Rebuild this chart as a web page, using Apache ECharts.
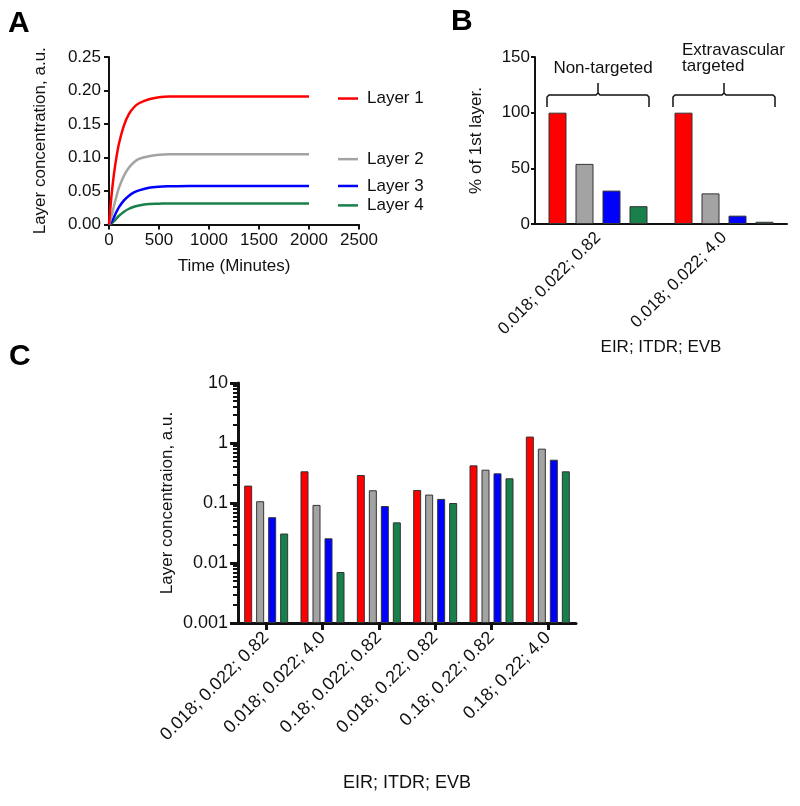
<!DOCTYPE html>
<html><head><meta charset="utf-8">
<script src="https://cdn.jsdelivr.net/npm/echarts@6/dist/echarts.min.js"></script>
<style>html,body{margin:0;padding:0;background:#fff}#c{width:800px;height:806px}</style>
</head><body><div id="c"></div>
<script>
// ---- Panel A data ----
const timeMin = [0, 25, 50, 75, 100, 150, 200, 250, 300, 400, 500, 600, 800, 1000, 1500, 2000];
const layer1A = [0, 0.043, 0.076, 0.101, 0.121, 0.148, 0.165, 0.175, 0.181, 0.187, 0.190, 0.191, 0.191, 0.191, 0.191, 0.191];
const layer2A = [0, 0.012, 0.028, 0.042, 0.055, 0.073, 0.085, 0.093, 0.098, 0.102, 0.104, 0.105, 0.105, 0.105, 0.105, 0.105];
const layer3A = [0, 0.004, 0.011, 0.019, 0.026, 0.036, 0.043, 0.048, 0.051, 0.055, 0.0565, 0.057, 0.0575, 0.0575, 0.0575, 0.0575];
const layer4A = [0, 0.0015, 0.005, 0.009, 0.013, 0.019, 0.0235, 0.0265, 0.0285, 0.0305, 0.031, 0.0315, 0.0315, 0.0315, 0.0315, 0.0315];
const layerNames = ['Layer 1', 'Layer 2', 'Layer 3', 'Layer 4'];
const layerColors = ['#ff0000', '#a3a3a3', '#0000ff', '#18804a'];

// ---- Panel B data ----
const catsB = ['0.018; 0.022; 0.82', '0.018; 0.022; 4.0'];
const groupLabelsB = ['Non-targeted', 'Extravascular\ntargeted'];
const layer1B = [100, 100];
const layer2B = [54, 27.5];
const layer3B = [30, 7.5];
const layer4B = [16, 2];

// ---- Panel C data ----
const catsC = ['0.018; 0.022; 0.82', '0.018; 0.022; 4.0', '0.18; 0.022; 0.82', '0.018; 0.22; 0.82', '0.18; 0.22; 0.82', '0.18; 0.22; 4.0'];
const layer1C = [0.195, 0.337, 0.293, 0.165, 0.424, 1.28];
const layer2C = [0.107, 0.093, 0.163, 0.138, 0.359, 0.805];
const layer3C = [0.058, 0.0258, 0.089, 0.117, 0.312, 0.527];
const layer4C = [0.031, 0.00708, 0.0476, 0.100, 0.258, 0.337];
const logMajorTicks = [0.001, 0.01, 0.1, 1, 10];
const logMinorTicks = [0.002, 0.003, 0.004, 0.005, 0.006, 0.007, 0.008, 0.009,
  0.02, 0.03, 0.04, 0.05, 0.06, 0.07, 0.08, 0.09,
  0.2, 0.3, 0.4, 0.5, 0.6, 0.7, 0.8, 0.9,
  2, 3, 4, 5, 6, 7, 8, 9];

const FONT = "'Liberation Sans', Arial, sans-serif";
const chart = echarts.init(document.getElementById('c'), null, { renderer: 'canvas' });

const linesA = [layer1A, layer2A, layer3A, layer4A];
const barsB = [layer1B, layer2B, layer3B, layer4B];
const barsC = [layer1C, layer2C, layer3C, layer4C];
const legendOffsets = [[0, 2], [0, 5], [0, 0], [0, 2]];

const series = [];
linesA.forEach((arr, i) => {
  series.push({
    type: 'line', xAxisIndex: 0, yAxisIndex: 0, name: layerNames[i],
    data: timeMin.map((t, k) => [t, arr[k]]),
    smooth: 0.3, showSymbol: false, symbol: 'none',
    lineStyle: { color: layerColors[i], width: 2.5 },
    endLabel: {
      show: true, distance: 29, offset: legendOffsets[i],
      formatter: '{d|}{t|' + layerNames[i] + '}',
      rich: {
        d: { width: 20, height: 2.5, backgroundColor: layerColors[i] },
        t: { padding: [0, 0, 0, 9], color: '#111', fontSize: 17, fontFamily: FONT }
      }
    },
    z: 3 - i
  });
});
barsB.forEach((arr, i) => {
  series.push({
    type: 'bar', xAxisIndex: 1, yAxisIndex: 1, name: layerNames[i],
    data: arr, barWidth: 18, barGap: '50%',
    itemStyle: { color: layerColors[i], borderColor: '#333', borderWidth: 1 }
  });
});
barsC.forEach((arr, i) => {
  series.push({
    type: 'bar', xAxisIndex: 2, yAxisIndex: 2, name: layerNames[i],
    data: arr, barWidth: 8, barGap: '50%',
    itemStyle: { color: layerColors[i], borderColor: '#333', borderWidth: 1 }
  });
});

const axisLbl = (fs) => ({ color: '#111', fontSize: fs, fontFamily: FONT });

const option = {
  animation: false,
  backgroundColor: '#fff',
  textStyle: { fontFamily: FONT },
  grid: [
    { left: 109, top: 57, width: 250, height: 167.5 },
    { left: 535, top: 57, width: 252, height: 167 },
    { left: 238, top: 383, width: 338, height: 240 }
  ],
  xAxis: [
    { gridIndex: 0, type: 'value', min: 0, max: 2500, interval: 500,
      name: 'Time (Minutes)', nameLocation: 'middle', nameGap: 33, nameMoveOverlap: false,
      nameTextStyle: axisLbl(17),
      axisLine: { lineStyle: { color: '#111', width: 2 } },
      axisTick: { length: 5, lineStyle: { width: 2, color: '#111' } },
      axisLabel: Object.assign(axisLbl(17), { margin: 7, formatter: v => String(v) }),
      splitLine: { show: false } },
    { gridIndex: 1, type: 'category', data: catsB,
      name: 'EIR; ITDR; EVB', nameLocation: 'middle', nameGap: 115, nameMoveOverlap: false,
      nameTextStyle: axisLbl(17),
      axisLine: { lineStyle: { color: '#111', width: 2 } },
      axisTick: { show: false },
      axisLabel: Object.assign(axisLbl(17), { rotate: 45, margin: 11, interval: 0 }) },
    { gridIndex: 2, type: 'category', data: catsC,
      name: 'EIR; ITDR; EVB', nameLocation: 'middle', nameGap: 151, nameMoveOverlap: false,
      nameTextStyle: axisLbl(18),
      axisLine: { lineStyle: { color: '#111', width: 3 } },
      axisTick: { show: true, alignWithLabel: true, length: 7, lineStyle: { width: 3, color: '#111' } },
      axisLabel: Object.assign(axisLbl(18), { rotate: 45, margin: 12, interval: 0 }) }
  ],
  yAxis: [
    { gridIndex: 0, type: 'value', min: 0, max: 0.25, interval: 0.05,
      name: 'Layer concentration, a.u.', nameLocation: 'middle', nameGap: 60, nameMoveOverlap: false,
      nameTextStyle: axisLbl(17),
      axisLine: { show: true, lineStyle: { color: '#111', width: 2 } },
      axisTick: { show: true, length: 5, lineStyle: { width: 2, color: '#111' } },
      axisLabel: Object.assign(axisLbl(17), { margin: 8, formatter: v => v.toFixed(2) }),
      splitLine: { show: false } },
    { gridIndex: 1, type: 'value', min: 0, max: 150, interval: 50,
      name: '% of 1st layer.', nameLocation: 'middle', nameGap: 50, nameMoveOverlap: false,
      nameTextStyle: axisLbl(17),
      axisLine: { show: true, lineStyle: { color: '#111', width: 2 } },
      axisTick: { show: true, length: 4, lineStyle: { width: 2, color: '#111' } },
      axisLabel: Object.assign(axisLbl(17), { margin: 5 }),
      splitLine: { show: false } },
    { gridIndex: 2, type: 'log', logBase: 10, min: 0.001, max: 10, startValue: 0.001,
      position: 'left',
      name: 'Layer concentraion, a.u.', nameLocation: 'middle', nameGap: 62, nameMoveOverlap: false,
      nameTextStyle: axisLbl(17),
      axisLine: { show: true, lineStyle: { color: '#111', width: 3 } },
      axisTick: { show: true, length: 8, customValues: logMajorTicks, lineStyle: { width: 3, color: '#111' } },
      axisLabel: Object.assign(axisLbl(18), { margin: 10, customValues: logMajorTicks,
        formatter: v => String(+v.toPrecision(3)) }),
      splitLine: { show: false } },
    { gridIndex: 2, type: 'log', logBase: 10, min: 0.001, max: 10,
      position: 'left', offset: 0,
      axisLine: { show: false },
      axisTick: { show: true, length: 5, customValues: logMinorTicks, lineStyle: { width: 2, color: '#111' } },
      axisLabel: { show: false },
      splitLine: { show: false } }
  ],
  series: series
};
chart.setOption(option);

// ---- annotations: panel letters and group brackets ----
const graphics = [
  { type: 'text', left: 8, top: 9, style: { text: 'A', font: "bold 30px " + FONT, fill: '#000' } },
  { type: 'text', left: 451, top: 7, style: { text: 'B', font: "bold 30px " + FONT, fill: '#000' } },
  { type: 'text', left: 9, top: 342, style: { text: 'C', font: "bold 30px " + FONT, fill: '#000' } }
];
catsB.forEach((c, i) => {
  const cx = chart.convertToPixel({ xAxisIndex: 1 }, c);
  const half = 51;
  const yb = 107, yh = 95, yt = 83;
  graphics.push({ type: 'polyline', shape: { points: [[cx - half, yb], [cx - half, yh + 2], [cx - half + 2, yh], [cx - 2, yh], [cx, yh - 2], [cx, yt]] },
    style: { stroke: '#111', lineWidth: 1.5, fill: null } });
  graphics.push({ type: 'polyline', shape: { points: [[cx, yh - 2], [cx + 2, yh], [cx + half - 2, yh], [cx + half, yh + 2], [cx + half, yb]] },
    style: { stroke: '#111', lineWidth: 1.5, fill: null } });
  if (i === 0) {
    graphics.push({ type: 'text', x: cx + 5, y: 68, style: { text: groupLabelsB[i], font: '17px ' + FONT, fill: '#111', align: 'center', verticalAlign: 'middle' } });
  } else {
    graphics.push({ type: 'text', x: cx - 42, y: 58, style: { text: groupLabelsB[i], font: '17px ' + FONT, fill: '#111', align: 'left', verticalAlign: 'middle', lineHeight: 16 } });
  }
});
chart.setOption({ graphic: graphics });
</script>
</body></html>
